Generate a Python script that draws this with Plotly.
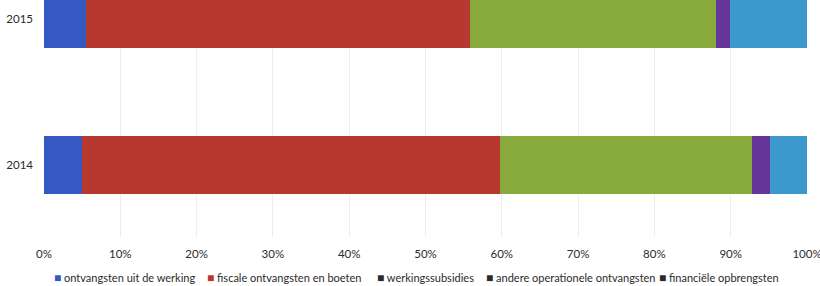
import plotly.graph_objects as go

years = ["2014", "2015"]
series_names = [
    "ontvangsten uit de werking",
    "fiscale ontvangsten en boeten",
    "werkingssubsidies",
    "andere operationele ontvangsten",
    "financiële opbrengsten",
]
# shares (%) per year, order: 2014, 2015
ontvangsten_werking = [5.0, 5.5]
fiscale_ontvangsten = [54.8, 50.3]
werkingssubsidies = [33.0, 32.3]
andere_operationele = [2.4, 1.8]
financiele_opbrengsten = [4.8, 10.1]

series_values = [ontvangsten_werking, fiscale_ontvangsten, werkingssubsidies,
                 andere_operationele, financiele_opbrengsten]
bar_colors = ["#3558C2", "#B6382F", "#88A93B", "#66369A", "#3D99CD"]
legend_colors = ["#3558C2", "#B6382F", "#2a2a2a", "#2a2a2a", "#2a2a2a"]

x_ticks = [0, 10, 20, 30, 40, 50, 60, 70, 80, 90, 100]
x_tick_labels = [f"{t}%" for t in x_ticks]

FONT = "Lato, 'Open Sans', sans-serif"

fig = go.Figure()
for name, vals, col in zip(series_names, series_values, bar_colors):
    fig.add_trace(go.Bar(
        y=years, x=vals, name=name, orientation="h",
        marker=dict(color=col, line=dict(width=0)),
        width=0.395, showlegend=False,
    ))

# legend drawn as text items (marker glyph + label)
legend_px = [52, 205, 375, 484, 657]
plot_left, plot_w = 44.3, 762.4
for name, col, px in zip(series_names, legend_colors, legend_px):
    fig.add_annotation(
        xref="paper", yref="paper",
        x=(px - plot_left) / plot_w, y=-0.172,
        xanchor="left", yanchor="middle", showarrow=False,
        text=f"<span style='color:{col};font-size:12px'>■</span> {name}",
        font=dict(family=FONT, size=11, color="#2b2b2b"),
    )

fig.update_layout(
    barmode="stack",
    width=820, height=286,
    margin=dict(l=44, r=13, t=0, b=49, autoexpand=False),
    paper_bgcolor="white", plot_bgcolor="white",
    font=dict(family=FONT, size=11.5, color="#2b2b2b"),
    bargap=0,
)
fig.update_xaxes(
    range=[0, 100], tickvals=x_ticks, ticktext=x_tick_labels,
    showgrid=True, gridcolor="#eeeeee", gridwidth=1,
    zeroline=False, showline=False, ticks="", ticklabelstandoff=8,
    ticklabeloverflow="allow", automargin=False, fixedrange=True,
)
fig.update_yaxes(
    range=[-0.49, 1.13], showgrid=False, zeroline=False, showline=False,
    ticks="", ticklabelstandoff=10, type="category", automargin=False,
)

fig.write_html(
    "out.html",
    config={"displayModeBar": False},
    post_script="document.body.style.margin='0';document.body.style.overflow='hidden';",
)
